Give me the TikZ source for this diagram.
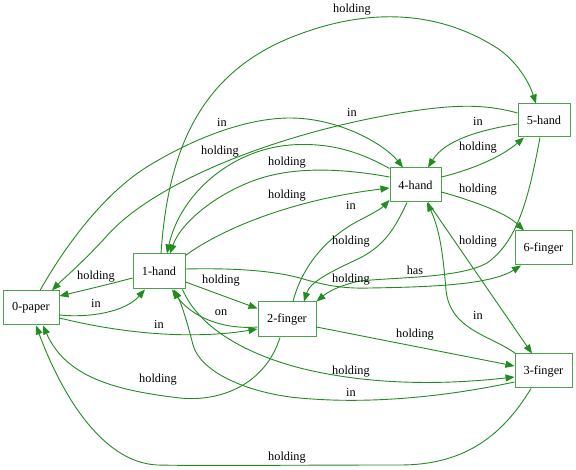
\documentclass[tikz,border=0pt]{standalone}
\usepackage{fontspec}
\setmainfont{Liberation Serif}
\usetikzlibrary{arrows.meta}
\definecolor{edgegreen}{RGB}{34,139,34}
\definecolor{boxgreen}{RGB}{72,164,72}
\begin{document}
\begin{tikzpicture}[x=1pt,y=-1pt,
  box/.style={draw=boxgreen, line width=1pt, rectangle, inner sep=0pt,
    font=\fontsize{12.3}{14}\selectfont},
  rel/.style={draw=edgegreen, line width=0.9pt,
    -{Triangle[length=9pt,width=7pt]}},
  lbl/.style={font=\fontsize{12.3}{14}\selectfont, inner sep=0pt}]
\useasboundingbox[fill=white] (0,0) rectangle (576,470);

% entities
\node[box, minimum width=56pt, minimum height=34pt] (p0) at (31,308)    {0-paper};
\node[box, minimum width=52pt, minimum height=35pt] (h1) at (159,271.5) {1-hand};
\node[box, minimum width=58pt, minimum height=35pt] (f2) at (287,319.5) {2-finger};
\node[box, minimum width=57pt, minimum height=34pt] (f3) at (543.5,371) {3-finger};
\node[box, minimum width=51pt, minimum height=34pt] (h4) at (415.5,185) {4-hand};
\node[box, minimum width=52pt, minimum height=33pt] (h5) at (544,120.5) {5-hand};
\node[box, minimum width=57pt, minimum height=34pt] (f6) at (543.5,248) {6-finger};

% relations
\draw[rel] ([xshift=2pt]h1.north) .. controls (168,150) and (200,70) .. (300,34)
  .. controls (370,8) and (440,10) .. (500,50)
  .. controls (520,65) and (530,85) .. ([xshift=-8pt]h5.north);
\draw[rel] ([yshift=7.5pt]h5.west) .. controls (485,104) and (455,104) .. (400,113)
  .. controls (270,135) and (150,185) .. (105,238)
  .. controls (80,265) and (62,280) .. ([xshift=21pt]p0.north);
\draw[rel] ([xshift=9pt]p0.north) .. controls (60,255) and (100,195) .. (150,165)
  .. controls (200,135) and (250,118) .. (290,118)
  .. controls (340,118) and (385,145) .. ([xshift=-12.5pt]h4.north);
\draw[rel] ([yshift=-1pt]h4.north west) .. controls (360,152) and (330,142) .. (290,145)
  .. controls (230,150) and (180,195) .. ([xshift=8pt]h1.north);
\draw[rel] ([yshift=8pt]h4.west) .. controls (340,168) and (290,166) .. (250,182)
  .. controls (210,198) and (180,225) .. ([xshift=11pt]h1.north);
\draw[rel] ([yshift=-2pt]h1.north east) .. controls (220,230) and (290,200) .. ([yshift=-3pt]h4.west);
\draw[rel] ([xshift=6pt]f2.north) .. controls (305,255) and (340,230) .. (360,220)
  .. controls (372,214) and (382,208) .. ([yshift=-15pt]h4.west);
\draw[rel] ([xshift=-8.5pt]h4.south) .. controls (395,228) and (385,245) .. (360,258)
  .. controls (330,272) and (310,282) .. ([xshift=17pt]f2.north);
\draw[rel] ([yshift=-3.5pt]h5.west) .. controls (480,130) and (445,140) .. ([xshift=12.5pt]h4.north);
\draw[rel] ([yshift=8pt]h4.east) .. controls (470,170) and (500,158) .. ([xshift=-20pt]h5.south);
\draw[rel] ([yshift=-7pt]h4.east) .. controls (470,200) and (505,212) .. ([xshift=-19.5pt]f6.north);
\draw[rel] ([xshift=12.5pt]h4.south) -- ([xshift=-11.5pt]f3.north);
\draw[rel] ([xshift=1pt]f3.north west) .. controls (490,335) and (450,330) .. (446,290)
  .. controls (443,255) and (440,230) .. ([xshift=11.5pt]h4.south);
\draw[rel] ([yshift=2.5pt]h1.east) .. controls (230,268) and (270,270) .. (300,278)
  .. controls (320,284) and (340,289) .. (370,288)
  .. controls (430,287) and (490,285) .. ([xshift=-22.5pt]f6.south);
\draw[rel] ([xshift=-4pt]h5.south) .. controls (530,190) and (520,240) .. (487,263)
  .. controls (460,278) and (400,277) .. (360,281)
  .. controls (345,284) and (330,290) .. (f2.north east);
\draw[rel] ([yshift=-6.5pt]h1.west) .. controls (110,284) and (85,290) .. ([yshift=12pt]p0.east);
\draw[rel] ([yshift=-7pt]p0.east) .. controls (90,318) and (125,312) .. ([xshift=-14pt]h1.south);
\draw[rel] ([yshift=-10.5pt]h1.east) -- ([yshift=11pt]f2.west);
\draw[rel] ([yshift=-7.5pt]f2.west) .. controls (220,330) and (190,315) .. ([xshift=13pt]h1.south);
\draw[rel] ([yshift=-10pt]p0.east) .. controls (120,333) and (190,340) .. ([yshift=-9.5pt]f2.west);
\draw[rel] ([xshift=-7pt]f2.south) .. controls (265,385) and (220,402) .. (180,398)
  .. controls (110,390) and (65,375) .. ([xshift=12pt]p0.south);
\draw[rel] ([yshift=-7.5pt]f2.east) -- ([yshift=5pt]f3.west);
\draw[rel] ([xshift=-3pt]h1.south east) .. controls (200,330) and (250,355) .. (300,368)
  .. controls (380,388) and (460,383) .. ([yshift=-6pt]f3.west);
\draw[rel] ([yshift=-11pt]f3.west) .. controls (440,398) and (360,405) .. (290,397)
  .. controls (240,390) and (200,370) .. (193,345)
  .. controls (188,325) and (182,305) .. ([xshift=15pt]h1.south);
\draw[rel] ([xshift=-12.5pt]f3.south) .. controls (500,440) and (460,465) .. (400,465)
  .. controls (300,465) and (200,466) .. (157,465)
  .. controls (100,462) and (60,390) .. ([xshift=5pt]p0.south);

% relation names
\node[lbl] (l1)  at (352,10)  {holding};
\node[lbl] (l2)  at (352,112) {in};
\node[lbl] (l3)  at (222,122) {in};
\node[lbl] (l4)  at (220,152) {holding};
\node[lbl] (l5)  at (287,163) {holding};
\node[lbl] (l6)  at (287,196) {holding};
\node[lbl] (l7)  at (351,205) {in};
\node[lbl] (l8)  at (351,242) {holding};
\node[lbl] (l9)  at (478,121) {in};
\node[lbl] (l10) at (478,148) {holding};
\node[lbl] (l11) at (478,190) {holding};
\node[lbl] (l12) at (478,242) {holding};
\node[lbl] (l13) at (478,315) {in};
\node[lbl] (l14) at (415,270) {has};
\node[lbl] (l15) at (351,280) {holding};
\node[lbl] (l16) at (96,277)  {holding};
\node[lbl] (l17) at (96,303)  {in};
\node[lbl] (l18) at (221,281) {holding};
\node[lbl] (l19) at (221,313) {on};
\node[lbl] (l20) at (159,324) {in};
\node[lbl] (l21) at (158,380) {holding};
\node[lbl] (l22) at (415,335) {holding};
\node[lbl] (l23) at (351,372) {holding};
\node[lbl] (l24) at (351,392) {in};
\node[lbl] (l25) at (287,458) {holding};
\end{tikzpicture}
\end{document}
